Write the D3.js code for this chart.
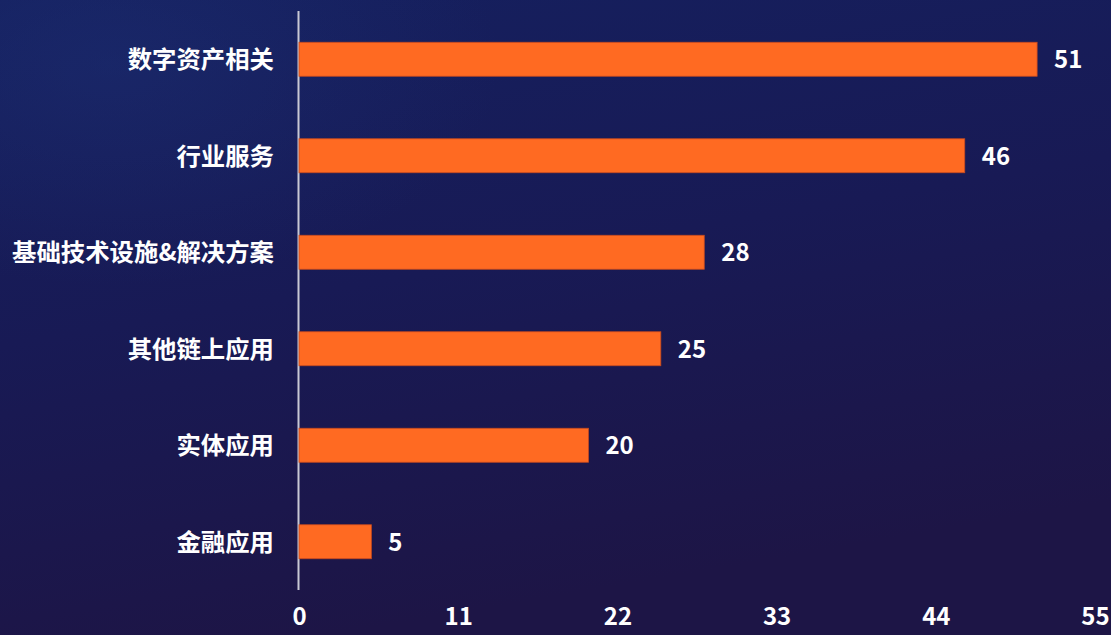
<!DOCTYPE html>
<html><head><meta charset="utf-8">
<script src="https://cdn.jsdelivr.net/npm/d3@7/dist/d3.min.js"></script>
<style>html,body{margin:0;padding:0;background:#161a52;overflow:hidden}</style>
</head><body>
<svg id="c" width="1111" height="635"></svg>
<script>
const categories = ["数字资产相关","行业服务","基础技术设施&解决方案","其他链上应用","实体应用","金融应用"];
const values = [51,46,28,25,20,5];
const tickValues = [0,11,22,33,44,55];

const W=1111,H=635;
const svg=d3.select("#c");
const defs=svg.append("defs");
const lg=defs.append("linearGradient").attr("id","bg").attr("x1","0").attr("y1","0").attr("x2","0.3").attr("y2","1");
lg.append("stop").attr("offset","0%").attr("stop-color","#15205f");
lg.append("stop").attr("offset","50%").attr("stop-color","#181a55");
lg.append("stop").attr("offset","100%").attr("stop-color","#1d1546");
svg.append("rect").attr("width",W).attr("height",H).attr("fill","url(#bg)");
const rg=defs.append("radialGradient").attr("id","glow").attr("cx","0.1").attr("cy","0.1").attr("r","0.35");
rg.append("stop").attr("offset","0%").attr("stop-color","#1e3278").attr("stop-opacity",0.4);
rg.append("stop").attr("offset","100%").attr("stop-color","#1e3278").attr("stop-opacity",0);
svg.append("rect").attr("width",W).attr("height",H).attr("fill","url(#glow)");

const font='"Noto Sans CJK SC","Noto Sans",sans-serif';
const x=d3.scaleLinear().domain([0,55]).range([299,1095]);
const y=d3.scaleBand().domain(categories).range([11,590]).paddingInner(0.648).paddingOuter(0.324);

svg.append("line").attr("x1",x(0)-0.5).attr("x2",x(0)-0.5).attr("y1",11).attr("y2",590)
  .attr("stroke","#c8c8d4").attr("stroke-width",2);

svg.selectAll("rect.bar").data(values).join("rect").attr("class","bar")
  .attr("x",x(0)).attr("y",(d,i)=>y(categories[i]))
  .attr("width",d=>x(d)-x(0)).attr("height",y.bandwidth())
  .attr("fill","#ff6a22").attr("stroke","#c84a1e").attr("stroke-width",0.8);

svg.selectAll("text.val").data(values).join("text").attr("class","val")
  .attr("x",d=>x(d)+17).attr("y",(d,i)=>y(categories[i])+y.bandwidth()/2)
  .attr("dy","0.38em").attr("fill","#fff").attr("font-family",font).attr("font-weight","bold")
  .attr("font-size",24).text(d=>d);

svg.selectAll("text.cat").data(categories).join("text").attr("class","cat")
  .attr("x",274).attr("y",d=>y(d)+y.bandwidth()/2).attr("dy","0.36em")
  .attr("text-anchor","end").attr("fill","#fff").attr("font-family",font).attr("font-weight","bold")
  .attr("font-size",24.4).text(d=>d);

const ax=svg.append("g").attr("transform","translate(0,600)")
  .call(d3.axisBottom(x).tickValues(tickValues).tickSize(0).tickPadding(0));
ax.select(".domain").remove();
ax.selectAll("text").attr("fill","#fff").attr("font-family",font).attr("font-weight","bold")
  .attr("font-size",24).attr("dy","1.05em");
</script>
</body></html>
